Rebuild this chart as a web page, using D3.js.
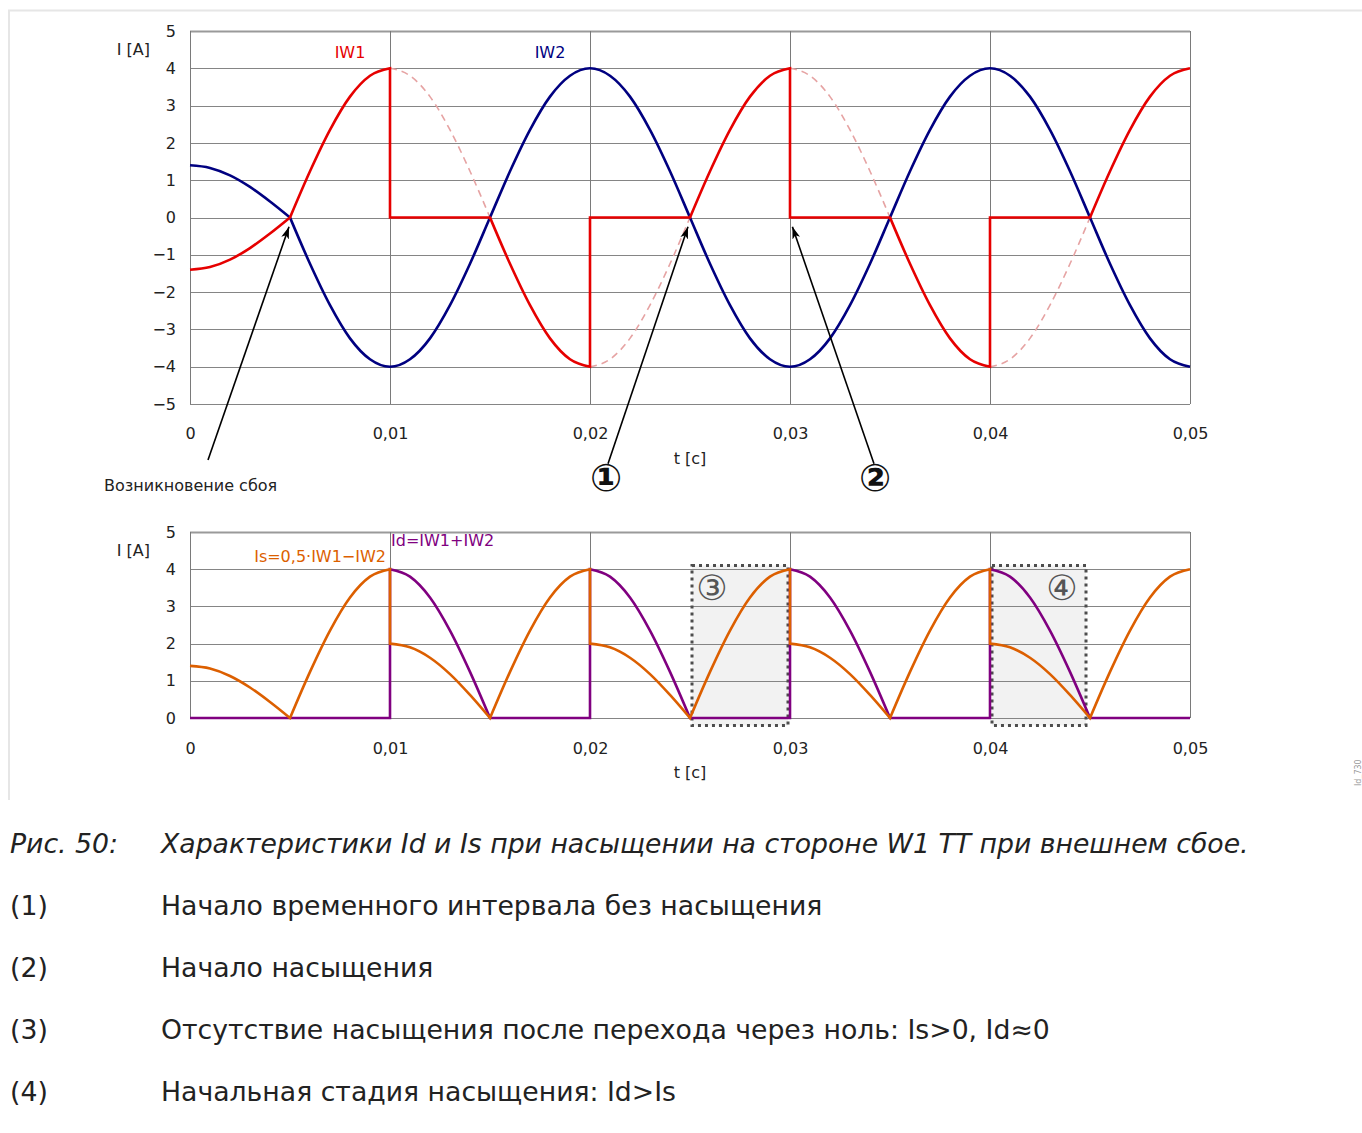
<!DOCTYPE html>
<html>
<head>
<meta charset="utf-8">
<script src="https://cdn.jsdelivr.net/npm/d3@7"></script>
<style>
  body { margin: 0; background: #fff; }
  text { font-family: "DejaVu Sans", sans-serif; }
</style>
</head>
<body>
<svg id="chart" width="1362" height="1133"></svg>
<script>
// ---- data (t in seconds, I in amperes) ----
const xTicks = [0, 0.01, 0.02, 0.03, 0.04, 0.05]
const xTickLabels = ['0', '0,01', '0,02', '0,03', '0,04', '0,05']
const yTicksTop = [-5, -4, -3, -2, -1, 0, 1, 2, 3, 4, 5]
const yTicksBottom = [0, 1, 2, 3, 4, 5]

// IW2 (blue)
const iw2Pre = [[0, 1.4], [0.001, 1.33], [0.002, 1.13], [0.003, 0.82], [0.004, 0.43], [0.005, 0]]
const iw2Main = [
    [0.005, 0], [0.006, -1.24], [0.007, -2.35], [0.008, -3.24], [0.009, -3.8], [0.010, -4],
    [0.011, -3.8], [0.012, -3.24], [0.013, -2.35], [0.014, -1.24], [0.015, 0],
    [0.016, 1.24], [0.017, 2.35], [0.018, 3.24], [0.019, 3.8], [0.020, 4],
    [0.021, 3.8], [0.022, 3.24], [0.023, 2.35], [0.024, 1.24], [0.025, 0],
    [0.026, -1.24], [0.027, -2.35], [0.028, -3.24], [0.029, -3.8], [0.030, -4],
    [0.031, -3.8], [0.032, -3.24], [0.033, -2.35], [0.034, -1.24], [0.035, 0],
    [0.036, 1.24], [0.037, 2.35], [0.038, 3.24], [0.039, 3.8], [0.040, 4],
    [0.041, 3.8], [0.042, 3.24], [0.043, 2.35], [0.044, 1.24], [0.045, 0],
    [0.046, -1.24], [0.047, -2.35], [0.048, -3.24], [0.049, -3.8], [0.050, -4]
]

// IW1 (red), saturated CT
const iw1Segments = [
    [[0, -1.4], [0.001, -1.33], [0.002, -1.13], [0.003, -0.82], [0.004, -0.43], [0.005, 0]],
    [[0.005, 0], [0.006, 1.24], [0.007, 2.35], [0.008, 3.24], [0.009, 3.8], [0.010, 4]],
    [[0.010, 4], [0.010, 0], [0.015, 0]],
    [[0.015, 0], [0.016, -1.24], [0.017, -2.35], [0.018, -3.24], [0.019, -3.8], [0.020, -4]],
    [[0.020, -4], [0.020, 0], [0.025, 0]],
    [[0.025, 0], [0.026, 1.24], [0.027, 2.35], [0.028, 3.24], [0.029, 3.8], [0.030, 4]],
    [[0.030, 4], [0.030, 0], [0.035, 0]],
    [[0.035, 0], [0.036, -1.24], [0.037, -2.35], [0.038, -3.24], [0.039, -3.8], [0.040, -4]],
    [[0.040, -4], [0.040, 0], [0.045, 0]],
    [[0.045, 0], [0.046, 1.24], [0.047, 2.35], [0.048, 3.24], [0.049, 3.8], [0.050, 4]]
]

// IW1 without saturation (dashed)
const iw1Ideal = [
    [[0.010, 4], [0.011, 3.8], [0.012, 3.24], [0.013, 2.35], [0.014, 1.24], [0.015, 0]],
    [[0.020, -4], [0.021, -3.8], [0.022, -3.24], [0.023, -2.35], [0.024, -1.24], [0.025, 0]],
    [[0.030, 4], [0.031, 3.8], [0.032, 3.24], [0.033, 2.35], [0.034, 1.24], [0.035, 0]],
    [[0.040, -4], [0.041, -3.8], [0.042, -3.24], [0.043, -2.35], [0.044, -1.24], [0.045, 0]]
]

// Id (purple)
const idSegments = [
    [[0, 0], [0.010, 0], [0.010, 4]],
    [[0.010, 4], [0.011, 3.8], [0.012, 3.24], [0.013, 2.35], [0.014, 1.24], [0.015, 0]],
    [[0.015, 0], [0.020, 0], [0.020, 4]],
    [[0.020, 4], [0.021, 3.8], [0.022, 3.24], [0.023, 2.35], [0.024, 1.24], [0.025, 0]],
    [[0.025, 0], [0.030, 0], [0.030, 4]],
    [[0.030, 4], [0.031, 3.8], [0.032, 3.24], [0.033, 2.35], [0.034, 1.24], [0.035, 0]],
    [[0.035, 0], [0.040, 0], [0.040, 4]],
    [[0.040, 4], [0.041, 3.8], [0.042, 3.24], [0.043, 2.35], [0.044, 1.24], [0.045, 0]],
    [[0.045, 0], [0.050, 0]]
]

// Is (orange)
const isSegments = [
    [[0, 1.4], [0.001, 1.33], [0.002, 1.13], [0.003, 0.82], [0.004, 0.43], [0.005, 0]],
    [[0.005, 0], [0.006, 1.24], [0.007, 2.35], [0.008, 3.24], [0.009, 3.8], [0.010, 4]],
    [[0.010, 4], [0.010, 2]],
    [[0.010, 2], [0.011, 1.9], [0.012, 1.62], [0.013, 1.18], [0.014, 0.62], [0.015, 0]],
    [[0.015, 0], [0.016, 1.24], [0.017, 2.35], [0.018, 3.24], [0.019, 3.8], [0.020, 4]],
    [[0.020, 4], [0.020, 2]],
    [[0.020, 2], [0.021, 1.9], [0.022, 1.62], [0.023, 1.18], [0.024, 0.62], [0.025, 0]],
    [[0.025, 0], [0.026, 1.24], [0.027, 2.35], [0.028, 3.24], [0.029, 3.8], [0.030, 4]],
    [[0.030, 4], [0.030, 2]],
    [[0.030, 2], [0.031, 1.9], [0.032, 1.62], [0.033, 1.18], [0.034, 0.62], [0.035, 0]],
    [[0.035, 0], [0.036, 1.24], [0.037, 2.35], [0.038, 3.24], [0.039, 3.8], [0.040, 4]],
    [[0.040, 4], [0.040, 2]],
    [[0.040, 2], [0.041, 1.9], [0.042, 1.62], [0.043, 1.18], [0.044, 0.62], [0.045, 0]],
    [[0.045, 0], [0.046, 1.24], [0.047, 2.35], [0.048, 3.24], [0.049, 3.8], [0.050, 4]]
]

// highlighted intervals in the lower chart: [t0, t1, label]
const boxes = [[0.0251, 0.0299, '③'], [0.0401, 0.0448, '④']]

// arrows in the upper chart: tail [t, I] -> tip [t, I]
const arrows = [
    [[0.0009, -6.5], [0.00495, -0.25]],
    [[0.0209, -6.6], [0.02490, -0.25]],
    [[0.0342, -6.6], [0.03012, -0.25]]
]

const captionLabels = ['Рис. 50:', '(1)', '(2)', '(3)', '(4)']
const captionTexts = [
    'Характеристики Id и Is при насыщении на стороне W1 ТТ при внешнем сбое.',
    'Начало временного интервала без насыщения',
    'Начало насыщения',
    'Отсутствие насыщения после перехода через ноль: Is>0, Id≈0',
    'Начальная стадия насыщения: Id>Is'
]

// ---- drawing ----
let svg = d3.select('#chart')

// light frame
svg.append('line').attr('x1', 8).attr('x2', 1362).attr('y1', 10.5).attr('y2', 10.5)
    .attr('stroke', '#e6e6e6').attr('stroke-width', 2)
svg.append('line').attr('x1', 9).attr('x2', 9).attr('y1', 10).attr('y2', 800)
    .attr('stroke', '#e6e6e6').attr('stroke-width', 2)

let x = d3.scaleLinear().domain([0, 0.05]).range([190, 1190])
let yTop = d3.scaleLinear().domain([-5, 5]).range([404, 31])
let yBot = d3.scaleLinear().domain([0, 5]).range([718, 532])

let fmtY = d => d < 0 ? '\u2212' + Math.abs(d) : '' + d

let segPath = function (segs, y) {
    let smooth = d3.line().x(d => x(d[0])).y(d => y(d[1])).curve(d3.curveMonotoneX)
    let straight = d3.line().x(d => x(d[0])).y(d => y(d[1]))
    return segs.map((s, i) => {
        let jumps = s.some((p, j) => j > 0 && p[0] === s[j - 1][0])
        let d = (jumps || s.length < 3) ? straight(s) : smooth(s)
        return i ? d.replace(/^M/, 'L') : d
    }).join('')
}

let drawPanel = function (y, yTicks, xPad) {
    let g = svg.append('g')
    let [yMin, yMax] = y.domain()

    g.selectAll('.hgrid')
        .data(yTicks)
        .enter()
        .append('line')
        .attr('x1', x(0)).attr('x2', x(0.05))
        .attr('y1', d => Math.round(y(d)) + 0.5)
        .attr('y2', d => Math.round(y(d)) + 0.5)
        .attr('stroke', d => d === yMax ? '#9a9a9a' : '#858585')
        .attr('stroke-width', d => d === yMax ? 2 : 1)

    g.selectAll('.vgrid')
        .data(xTicks)
        .enter()
        .append('line')
        .attr('x1', d => Math.round(x(d)) + 0.5)
        .attr('x2', d => Math.round(x(d)) + 0.5)
        .attr('y1', y(yMax)).attr('y2', y(yMin))
        .attr('stroke', '#7a7a7a')

    let yAxis = g.append('g')
        .attr('transform', `translate(${x(0)},0)`)
        .call(d3.axisLeft(y).tickValues(yTicks).tickSize(0).tickPadding(14).tickFormat(fmtY))
    yAxis.select('.domain').remove()
    yAxis.selectAll('text').attr('font-size', 16).attr('fill', '#222')
        .style('font-family', '"DejaVu Sans"')

    let xAxis = g.append('g')
        .attr('transform', `translate(0,${y(yMin)})`)
        .call(d3.axisBottom(x).tickValues(xTicks).tickSize(0).tickPadding(xPad)
            .tickFormat((d, i) => xTickLabels[i]))
    xAxis.select('.domain').remove()
    xAxis.selectAll('text').attr('font-size', 16).attr('fill', '#222')
        .style('font-family', '"DejaVu Sans"')

    g.append('text')
        .attr('x', 150).attr('y', y(yMax) + 24)
        .attr('text-anchor', 'end')
        .attr('font-size', 16).attr('fill', '#222')
        .text('I [A]')

    g.append('text')
        .attr('x', 690).attr('y', y(yMin) + 60)
        .attr('text-anchor', 'middle')
        .attr('font-size', 16).attr('fill', '#222')
        .text('t [c]')
    return g
}

// ---------- upper chart ----------
let upper = drawPanel(yTop, yTicksTop, 24)

iw1Ideal.forEach(s => {
    upper.append('path')
        .attr('d', segPath([s], yTop))
        .attr('fill', 'none')
        .attr('stroke', '#e6a3a3')
        .attr('stroke-width', 1.6)
        .attr('stroke-dasharray', '7,5')
})

upper.append('path')
    .attr('d', segPath([iw2Pre, iw2Main], yTop))
    .attr('fill', 'none')
    .attr('stroke', '#000080')
    .attr('stroke-width', 2.6)

upper.append('path')
    .attr('d', segPath(iw1Segments, yTop))
    .attr('fill', 'none')
    .attr('stroke', '#e60000')
    .attr('stroke-width', 2.6)

upper.append('text').attr('x', 350).attr('y', 58).attr('text-anchor', 'middle')
    .attr('font-size', 16).attr('fill', '#e60000').text('IW1')
upper.append('text').attr('x', 550).attr('y', 58).attr('text-anchor', 'middle')
    .attr('font-size', 16).attr('fill', '#000080').text('IW2')

svg.append('defs').append('marker')
    .attr('id', 'arrowHead')
    .attr('viewBox', '0 0 12 8')
    .attr('refX', 12).attr('refY', 4)
    .attr('markerWidth', 12).attr('markerHeight', 8)
    .attr('markerUnits', 'userSpaceOnUse')
    .attr('orient', 'auto')
    .append('path')
    .attr('d', 'M0,0 L12,4 L0,8 L3,4 Z')
    .attr('fill', '#000')

upper.selectAll('.arrow')
    .data(arrows)
    .enter()
    .append('line')
    .attr('x1', d => x(d[0][0])).attr('y1', d => yTop(d[0][1]))
    .attr('x2', d => x(d[1][0])).attr('y2', d => yTop(d[1][1]))
    .attr('stroke', '#000')
    .attr('stroke-width', 1.6)
    .attr('marker-end', 'url(#arrowHead)')

upper.append('text').attr('x', 104).attr('y', 491)
    .attr('font-size', 16).attr('fill', '#222').text('Возникновение сбоя')
upper.append('text').attr('x', 606).attr('y', 491).attr('text-anchor', 'middle')
    .attr('font-size', 38).attr('font-weight', 'bold').attr('fill', '#111').text('①')
upper.append('text').attr('x', 875).attr('y', 491).attr('text-anchor', 'middle')
    .attr('font-size', 38).attr('font-weight', 'bold').attr('fill', '#111').text('②')

// ---------- lower chart ----------
let lowerBg = svg.append('g')
lowerBg.selectAll('.box')
    .data(boxes)
    .enter()
    .append('rect')
    .attr('x', d => x(d[0])).attr('width', d => x(d[1]) - x(d[0]))
    .attr('y', yBot(4.1)).attr('height', yBot(-0.2) - yBot(4.1))
    .attr('fill', '#f2f2f2')

let lower = drawPanel(yBot, yTicksBottom, 25)

lower.selectAll('.boxEdge')
    .data(boxes)
    .enter()
    .append('rect')
    .attr('x', d => x(d[0])).attr('width', d => x(d[1]) - x(d[0]))
    .attr('y', yBot(4.1)).attr('height', yBot(-0.2) - yBot(4.1))
    .attr('fill', 'none')
    .attr('stroke', '#4d4d4d')
    .attr('stroke-width', 3)
    .attr('stroke-dasharray', '3,4')

lower.selectAll('.boxLabel')
    .data(boxes)
    .enter()
    .append('text')
    .attr('x', d => x(d[0]) + (d[2] === '③' ? 20 : 70))
    .attr('y', yBot(3.5) + 12)
    .attr('text-anchor', 'middle')
    .attr('font-size', 35)
    .attr('fill', '#555')
    .text(d => d[2])

lower.append('path')
    .attr('d', segPath(idSegments, yBot))
    .attr('fill', 'none')
    .attr('stroke', '#800080')
    .attr('stroke-width', 2.6)

lower.append('path')
    .attr('d', segPath(isSegments, yBot))
    .attr('fill', 'none')
    .attr('stroke', '#dc5f00')
    .attr('stroke-width', 2.6)

lower.append('text').attr('x', 386).attr('y', 562).attr('text-anchor', 'end')
    .attr('font-size', 16).attr('fill', '#dc5f00').text('Is=0,5·IW1\u2212IW2')
lower.append('text').attr('x', 391).attr('y', 546)
    .attr('font-size', 16).attr('fill', '#800080').text('Id=IW1+IW2')

// tiny side id
svg.append('text')
    .attr('transform', 'translate(1361,786) rotate(-90)')
    .attr('font-size', 8).attr('fill', '#999').text('Id_730')

// ---------- caption ----------
let cap = svg.append('g')
cap.selectAll('.capLabel')
    .data(captionLabels)
    .enter()
    .append('text')
    .attr('x', 10)
    .attr('y', (d, i) => 853 + i * 62)
    .attr('font-size', 26.7)
    .attr('font-style', (d, i) => i === 0 ? 'italic' : 'normal')
    .attr('fill', '#222')
    .text(d => d)

cap.selectAll('.capText')
    .data(captionTexts)
    .enter()
    .append('text')
    .attr('x', 161)
    .attr('y', (d, i) => 853 + i * 62)
    .attr('font-size', 26.7)
    .attr('font-style', (d, i) => i === 0 ? 'italic' : 'normal')
    .attr('fill', '#222')
    .text(d => d)
</script>
</body>
</html>
